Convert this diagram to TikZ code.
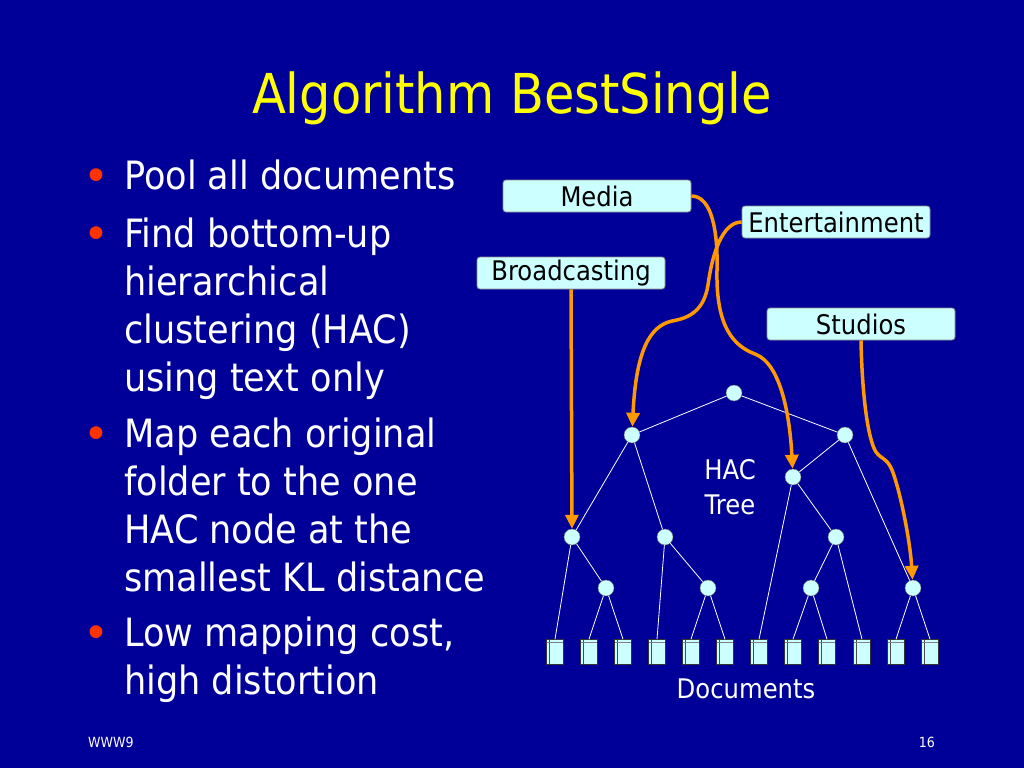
\documentclass[tikz,border=0pt]{standalone}
\usepackage{fontspec}
\setmainfont[FakeStretch=0.9]{DejaVu Sans}
\newfontfamily\dotfont{DejaVu Sans}
\usepackage{xcolor}
\usepackage{tikz}
\usetikzlibrary{arrows.meta, positioning}

\definecolor{slidebg}{HTML}{000099}
\definecolor{paleblue}{HTML}{CCFFFF}
\definecolor{maporange}{HTML}{FF9900}
\definecolor{dotred}{HTML}{FF3300}
\definecolor{titleyellow}{HTML}{FFFF00}

\begin{document}
\begin{tikzpicture}[
    x=1pt, y=-1pt,
    tnode/.style={circle, draw=black!60, fill=paleblue, minimum size=16pt, inner sep=0pt, line width=0.4pt},
    doc/.style={rectangle, draw=black!80, fill=paleblue, minimum width=17pt, minimum height=25pt, inner sep=0pt, line width=0.6pt,
        path picture={
            \draw[black!70, line width=0.7pt] ([xshift=3pt]path picture bounding box.north west) -- ([xshift=3pt]path picture bounding box.south west);
            \draw[black!50, line width=0.7pt] ([yshift=-3pt]path picture bounding box.north west) -- ([yshift=-3pt]path picture bounding box.north east);
        }},
    tag/.style={rectangle, draw=black!45, fill=paleblue, rounded corners=3pt, minimum width=188pt, minimum height=32pt, inner sep=0pt, line width=0.8pt, font=\fontsize{27}{30}\selectfont},
    edge/.style={white, line width=0.8pt},
    map/.style={maporange, line width=3.5pt, -{Triangle[length=14pt, width=13pt]}},
    bodytxt/.style={white, align=left, anchor=base west, inner sep=0pt, font=\fontsize{39}{48}\selectfont},
    dot/.style={dotred, anchor=base west, inner sep=0pt, font=\dotfont\fontsize{44}{48}\selectfont}
]

% slide background
\path[use as bounding box, fill=slidebg] (0,0) rectangle (1024,768);

% title
\node[titleyellow, anchor=base, inner sep=0pt, font=\fontsize{55}{60}\selectfont] (title) at (512,113) {Algorithm BestSingle};

% bullet list (base = last line)
\node[dot] (b1) at (83,191) {•};
\node[bodytxt] (p1) at (124,189) {Pool all documents};
\node[dot] (b2) at (83,249) {•};
\node[bodytxt] (p2) at (124,391) {Find bottom-up\\hierarchical\\clustering (HAC)\\using text only};
\node[dot] (b3) at (83,449) {•};
\node[bodytxt] (p3) at (124,591) {Map each original\\folder to the one\\HAC node at the\\smallest KL distance};
\node[dot] (b4) at (83,648) {•};
\node[bodytxt] (p4) at (124,694) {Low mapping cost,\\high distortion};

% footer
\node[white, anchor=base west, inner sep=0pt, font=\fontsize{14}{16}\selectfont] (conf) at (88,747) {WWW9};
\node[white, anchor=base east, inner sep=0pt, font=\fontsize{14}{16}\selectfont] (page) at (935,747) {16};

% HAC tree nodes
\node[tnode] (root) at (734,393) {};
\node[tnode] (hl) at (632,435) {};
\node[tnode] (hr) at (845,435) {};
\node[tnode] (hrl) at (793,477) {};
\node[tnode] (ma) at (572,537) {};
\node[tnode] (mb) at (665,537) {};
\node[tnode] (mc) at (836,537) {};
\node[tnode] (la) at (606,588) {};
\node[tnode] (lb) at (708,588) {};
\node[tnode] (lc) at (811,588) {};
\node[tnode] (ld) at (913,588) {};

% documents
\node[doc] (d1) at (555,652) {};
\node[doc] (d2) at (589,652) {};
\node[doc] (d3) at (623,652) {};
\node[doc] (d4) at (657,652) {};
\node[doc] (d5) at (691,652) {};
\node[doc] (d6) at (725,652) {};
\node[doc] (d7) at (759,652) {};
\node[doc] (d8) at (793,652) {};
\node[doc] (d9) at (827,652) {};
\node[doc] (d10) at (862,652) {};
\node[doc] (d11) at (896,652) {};
\node[doc] (d12) at (930,652) {};

% tree edges
\draw[edge] (root) -- (hl);
\draw[edge] (root) -- (hr);
\draw[edge] (hl) -- (ma);
\draw[edge] (hl) -- (mb);
\draw[edge] (hr) -- (hrl);
\draw[edge] (hr) -- (ld);
\draw[edge] (hrl) -- (d7.north);
\draw[edge] (hrl) -- (mc);
\draw[edge] (ma) -- (d1.north);
\draw[edge] (ma) -- (la);
\draw[edge] (la) -- (d2.north);
\draw[edge] (la) -- (d3.north);
\draw[edge] (mb) -- (d4.north);
\draw[edge] (mb) -- (lb);
\draw[edge] (lb) -- (d5.north);
\draw[edge] (lb) -- (d6.north);
\draw[edge] (mc) -- (lc);
\draw[edge] (mc) -- (d10.north);
\draw[edge] (lc) -- (d8.north);
\draw[edge] (lc) -- (d9.north);
\draw[edge] (ld) -- (d11.north);
\draw[edge] (ld) -- (d12.north);

% tree captions
\node[white, align=center, inner sep=0pt, font=\fontsize{27}{35}\selectfont] (hac) at (730,487) {HAC\\Tree};
\node[white, anchor=base, inner sep=0pt, font=\fontsize{27}{30}\selectfont] (docs) at (746,698) {Documents};

% folder tags
\node[tag] (media) at (597,196) {Media};
\node[tag] (ent) at (836,222) {Entertainment};
\node[tag] (broad) at (571,273) {Broadcasting};
\node[tag] (studio) at (861,324) {Studios};

% mapping arrows
\draw[map] (broad.south) -- (ma);
\draw[map] (media.east) .. controls (712,196) and (718,232) .. (717,270) .. controls (716,318) and (728,344) .. (755,354) .. controls (782,364) and (790,420) .. (hrl);
\draw[map] (ent.west) .. controls (722,222) and (712,255) .. (708,285) .. controls (704,310) and (690,318) .. (672,321) .. controls (650,326) and (636,350) .. (hl);
\draw[map] (studio.south) .. controls (862,395) and (868,440) .. (876,452) .. controls (881,459) and (887,458) .. (892,470) .. controls (900,490) and (910,540) .. (ld);

\end{tikzpicture}
\end{document}
